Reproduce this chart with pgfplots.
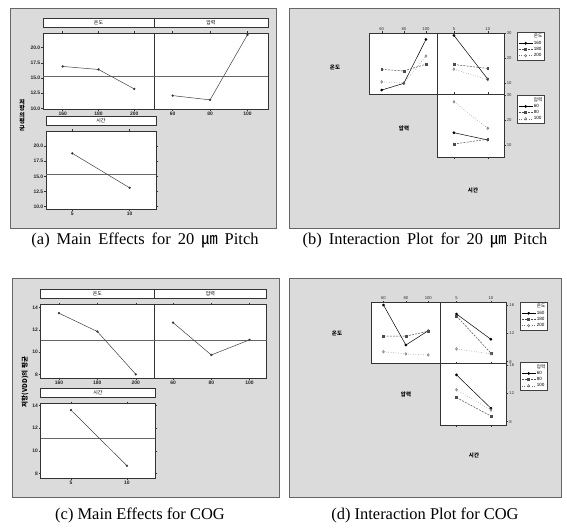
\documentclass[border=0pt]{standalone}
\usepackage{pgfplots}
\pgfplotsset{compat=1.18}
\usepackage{fontspec}
\setmainfont{Liberation Serif}
\newfontfamily\kr{Noto Sans CJK KR}
\newfontfamily\tk{Liberation Sans}
\definecolor{bg}{gray}{0.86}
\definecolor{fr}{gray}{0.40}

\pgfplotsset{
  base/.style={
    scale only axis,
    axis background/.style={fill=white},
    axis line style={black!80, line width=0.5pt},
    every tick/.style={black!80, line width=0.4pt},
    tick align=outside,
    major tick length=1.6bp,
    /pgf/number format/assume math mode=true,
  },
  me/.style={base,
    ticklabel style={font=\tk\bfseries\fontsize{5}{5}\selectfont, inner sep=1pt, black!85},
    title style={font=\kr\fontsize{5}{5}\selectfont, draw=black!80, fill=white, line width=0.5pt, anchor=south, at={(0.5,1)}, inner sep=0pt, yshift=0pt},
  },
  mel/.style={black!75, line width=0.5pt, mark=*, mark size=0.9pt, mark options={fill=black}},
  mean/.style={black!60, line width=0.45pt},
  ip/.style={base,
    ticklabel style={font=\tk\fontsize{4.2}{4.5}\selectfont, inner sep=1pt, black!80},
    legend style={draw=black!75, fill=white, line width=0.4pt, font=\tk\fontsize{4.6}{5}\selectfont, inner sep=1.2pt, nodes={inner sep=0.9pt}, row sep=-0.3pt, cells={anchor=west}},
    legend image code/.code={\draw[mark repeat=2,mark phase=2] plot coordinates {(0bp,0bp) (7bp,0bp) (14bp,0bp)};},
  },
  s1/.style={black, line width=0.5pt, mark=*, mark size=1.1pt},
  s2/.style={black!70, line width=0.5pt, dash pattern=on 2pt off 1.2pt, mark=square*, mark size=0.95pt, mark options={solid}},
  s3/.style={black!55, line width=0.5pt, dotted, mark=diamond, mark size=1.3pt, mark options={solid}},
}

\begin{document}
\begin{tikzpicture}
\useasboundingbox (0,0) rectangle (567bp,529bp);
% panel frames
\filldraw[fill=bg, draw=fr, line width=0.6pt] (10bp,301bp) rectangle (276bp,521bp);
\filldraw[fill=bg, draw=fr, line width=0.6pt] (289bp,301bp) rectangle (559bp,521bp);
\filldraw[fill=bg, draw=fr, line width=0.6pt] (12bp,32bp) rectangle (279bp,251bp);
\filldraw[fill=bg, draw=fr, line width=0.6pt] (289bp,32bp) rectangle (561bp,251bp);

% captions
\node[font=\fontsize{16.5}{18}\selectfont] at (145bp,289bp) {\spaceskip=7bp (a) Main Effects for 20 {\kr ㎛} Pitch};
\node[font=\fontsize{16.5}{18}\selectfont] at (425bp,289bp) {\spaceskip=7bp (b) Interaction Plot for 20 {\kr ㎛} Pitch};
\node[font=\fontsize{16.5}{18}\selectfont] at (140bp,14bp) {(c) Main Effects for COG};
\node[font=\fontsize{16.5}{18}\selectfont] at (425bp,14bp) {(d) Interaction Plot for COG};

% ---------------- (a) main effects, 20 um pitch
\node[font=\kr\bfseries\fontsize{6}{6.6}\selectfont, align=center, inner sep=0pt] at (22bp,414bp) {저\\항\\의\\평\\균};
\begin{axis}[me, at={(43bp,496bp)}, anchor=north west, width=111bp, height=76bp,
  xmin=149, xmax=211, ymin=9.9, ymax=22.4,
  xtick={160,180,200}, ytick={10,12.5,15,17.5,20},
  y tick label style={/pgf/number format/fixed, /pgf/number format/fixed zerofill, /pgf/number format/precision=1},
  title={온도}, title style={minimum width=111bp, minimum height=9bp}]
\addplot[mean] coordinates {(149,15.3) (211,15.3)};
\addplot[mel] coordinates {(160,16.9) (180,16.4) (200,13.2)};
\end{axis}
\begin{axis}[me, at={(154bp,496bp)}, anchor=north west, width=114bp, height=76bp,
  xmin=50, xmax=111, ymin=9.9, ymax=22.4,
  xtick={60,80,100}, ytick=\empty,
  title={압력}, title style={minimum width=114bp, minimum height=9bp}]
\addplot[mean] coordinates {(50,15.3) (111,15.3)};
\addplot[mel] coordinates {(60,12.1) (80,11.4) (100,22.1)};
\end{axis}
\begin{axis}[me, at={(46bp,398bp)}, anchor=north west, width=110bp, height=78bp,
  xmin=2.7, xmax=12.3, ymin=9.6, ymax=22.5,
  xtick={5,10}, ytick={10,12.5,15,17.5,20},
  y tick label style={/pgf/number format/fixed, /pgf/number format/fixed zerofill, /pgf/number format/precision=1},
  title={시간}, title style={minimum width=110bp, minimum height=9bp}]
\addplot[mean] coordinates {(2.7,15.4) (12.3,15.4)};
\addplot[mel] coordinates {(5,18.8) (10,13.1)};
\end{axis}

% ---------------- (c) main effects, COG
\node[font=\kr\bfseries\fontsize{6.5}{7}\selectfont, rotate=90, inner sep=0pt] at (25bp,147bp) {저항(VDD)의 평균};
\begin{axis}[me, at={(40.7bp,224.7bp)}, anchor=north west, width=113.3bp, height=74bp,
  xmin=150.5, xmax=209.5, ymin=7.64, ymax=14.3,
  xtick={160,180,200}, ytick={8,10,12,14},
  title={온도}, title style={minimum width=113.3bp, minimum height=8.5bp}]
\addplot[mean] coordinates {(150.5,11.1) (209.5,11.1)};
\addplot[mel] coordinates {(160,13.5) (180,11.85) (200,8.0)};
\end{axis}
\begin{axis}[me, at={(154bp,224.7bp)}, anchor=north west, width=112.7bp, height=74bp,
  xmin=50, xmax=109, ymin=7.64, ymax=14.3,
  xtick={60,80,100}, ytick=\empty,
  title={압력}, title style={minimum width=112.7bp, minimum height=8.5bp}]
\addplot[mean] coordinates {(50,11.1) (109,11.1)};
\addplot[mel] coordinates {(60,12.65) (80,9.74) (100,11.1)};
\end{axis}
\begin{axis}[me, at={(40.7bp,125.7bp)}, anchor=north west, width=114.3bp, height=75bp,
  xmin=2.3, xmax=12.5, ymin=7.56, ymax=14.2,
  xtick={5,10}, ytick={8,10,12,14},
  title={시간}, title style={minimum width=114.3bp, minimum height=8.5bp}]
\addplot[mean] coordinates {(2.3,11.1) (12.5,11.1)};
\addplot[mel] coordinates {(5,13.6) (10,8.67)};
\end{axis}

% ---------------- (b) interaction, 20 um pitch
\node[font=\kr\bfseries\fontsize{5.5}{6}\selectfont] at (335bp,462bp) {온도};
\node[font=\kr\bfseries\fontsize{5.5}{6}\selectfont] at (404bp,401bp) {압력};
\node[font=\kr\bfseries\fontsize{5.5}{6}\selectfont] at (473bp,339bp) {시간};
\begin{axis}[ip, at={(369bp,496bp)}, anchor=north west, width=68bp, height=61bp,
  xmin=48.5, xmax=110, ymin=5.6, ymax=30.2,
  xtick={60,80,100}, ytick=\empty, xtick pos=right, xticklabel pos=right]
\addplot[s1] coordinates {(60,7.2) (80,9.9) (100,27.6)};
\addplot[s2] coordinates {(60,15.5) (80,14.9) (100,17.6)};
\addplot[s3] coordinates {(60,10.5) (80,10.0) (100,20.9)};
\end{axis}
\begin{axis}[ip, at={(437bp,496bp)}, anchor=north west, width=67bp, height=61bp,
  xmin=2.5, xmax=12.4, ymin=5.6, ymax=30.2,
  xtick={5,10}, ytick={10,20,30}, xtick pos=right, xticklabel pos=right,
  ytick pos=right, yticklabel pos=right,
  legend style={at={(1.194,1.016)}, anchor=north west}]
\addlegendimage{empty legend}\addlegendentry{\kr 온도}
\addplot[s1] coordinates {(5,29.2) (10,11.6)}; \addlegendentry{160}
\addplot[s2] coordinates {(5,17.5) (10,15.9)}; \addlegendentry{180}
\addplot[s3] coordinates {(5,15.6) (10,11.4)}; \addlegendentry{200}
\end{axis}
\begin{axis}[ip, at={(437bp,435bp)}, anchor=north west, width=67bp, height=63bp,
  xmin=2.5, xmax=12.4, ymin=5.2, ymax=30.4,
  xtick={5,10}, xticklabels={,,}, ytick={10,20,30},
  ytick pos=right, yticklabel pos=right,
  legend style={at={(1.194,0.984)}, anchor=north west}]
\addlegendimage{empty legend}\addlegendentry{\kr 압력}
\addplot[s1] coordinates {(5,14.9) (10,12.0)}; \addlegendentry{60}
\addplot[s2] coordinates {(5,10.4) (10,12.3)}; \addlegendentry{80}
\addplot[s3] coordinates {(5,27.3) (10,16.7)}; \addlegendentry{100}
\end{axis}

% ---------------- (d) interaction, COG
\node[font=\kr\bfseries\fontsize{5.5}{6}\selectfont] at (337bp,196bp) {온도};
\node[font=\kr\bfseries\fontsize{5.5}{6}\selectfont] at (406bp,135bp) {압력};
\node[font=\kr\bfseries\fontsize{5.5}{6}\selectfont] at (474bp,74bp) {시간};
\begin{axis}[ip, at={(371.7bp,226.3bp)}, anchor=north west, width=68.3bp, height=60.6bp,
  xmin=49.5, xmax=110.5, ymin=7.77, ymax=16.33,
  xtick={60,80,100}, ytick=\empty, xtick pos=right, xticklabel pos=right]
\addplot[s1] coordinates {(60,16.0) (80,10.35) (100,12.37)};
\addplot[s2] coordinates {(60,11.6) (80,11.6) (100,12.3)};
\addplot[s3] coordinates {(60,9.4) (80,9.1) (100,8.95)};
\end{axis}
\begin{axis}[ip, at={(440bp,226.3bp)}, anchor=north west, width=66.7bp, height=60.6bp,
  xmin=2.6, xmax=12.3, ymin=7.77, ymax=16.33,
  xtick={5,10}, ytick={8,12,16}, xtick pos=right, xticklabel pos=right,
  ytick pos=right, yticklabel pos=right,
  legend style={at={(1.2,1.012)}, anchor=north west}]
\addlegendimage{empty legend}\addlegendentry{\kr 온도}
\addplot[s1] coordinates {(5,14.73) (10,11.16)}; \addlegendentry{160}
\addplot[s2] coordinates {(5,14.45) (10,9.2)}; \addlegendentry{180}
\addplot[s3] coordinates {(5,9.8) (10,9.1)}; \addlegendentry{200}
\end{axis}
\begin{axis}[ip, at={(440bp,165.7bp)}, anchor=north west, width=66.7bp, height=61.7bp,
  xmin=2.6, xmax=12.3, ymin=7.53, ymax=16.24,
  xtick={5,10}, xticklabels={,,}, ytick={8,12,16},
  ytick pos=right, yticklabel pos=right,
  legend style={at={(1.2,1.02)}, anchor=north west}]
\addlegendimage{empty legend}\addlegendentry{\kr 압력}
\addplot[s1] coordinates {(5,14.6) (10,9.9)}; \addlegendentry{60}
\addplot[s2] coordinates {(5,11.4) (10,8.8)}; \addlegendentry{80}
\addplot[s3] coordinates {(5,12.5) (10,9.65)}; \addlegendentry{100}
\end{axis}
\end{tikzpicture}
\end{document}
